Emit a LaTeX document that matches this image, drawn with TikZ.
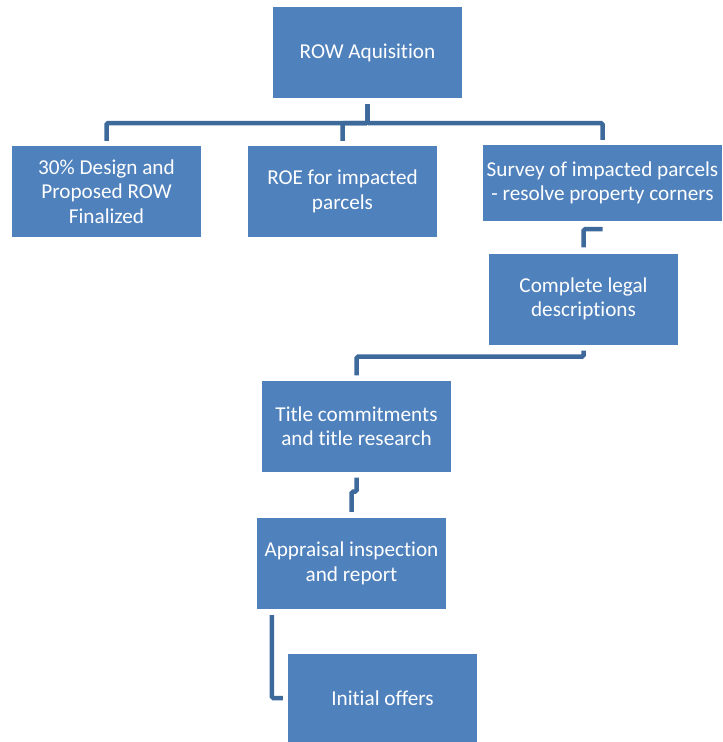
\documentclass[tikz,border=0pt]{standalone}
\usepackage{fontspec}
\setmainfont{Carlito}[Ligatures=NoCommon]
\usepackage{xcolor}
\definecolor{rowblue}{RGB}{79,129,189}
\definecolor{rowline}{RGB}{62,106,155}
\usetikzlibrary{positioning, calc}

\begin{document}
\begin{tikzpicture}[x=1pt, y=-1pt,
  box/.style={fill=rowblue, text=white, align=center, inner sep=0pt,
    minimum width=189pt, minimum height=91pt, font=\fontsize{21.2}{24.5}\selectfont},
  conn/.style={draw=rowline, line width=4.5pt, rounded corners=1.5pt}]
\useasboundingbox (0,0) rectangle (723,742);
\node[box] (row) at (367.5,52.5) {ROW Aquisition};
\node[box] (design) at (106.5,191.5) {30\% Design and\\Proposed ROW\\Finalized};
\node[box] (roe) at (342.5,191.5) {ROE for impacted\\parcels};
\node[box, minimum width=239pt, minimum height=76pt] (survey) at (602.5,183) {Survey of impacted parcels\\- resolve property corners};
\node[box] (legal) at (583.5,299) {Complete legal\\descriptions};
\node[box] (title) at (356.5,426) {Title commitments\\and title research};
\node[box] (appraisal) at (351.5,563.5) {Appraisal inspection\\and report};
\node[box, minimum height=88pt] (offers) at (382.5,698) {Initial offers};

\coordinate (bus) at (367.5,123);
\foreach \c in {design,roe,survey}
  \draw[conn] ([yshift=-6pt]row.south) -- (row.south |- bus) -| ([yshift=5pt]\c.north);
\draw[conn] ([yshift=-8pt]survey.south) -| ([yshift=6pt]legal.north);
\draw[conn] ([yshift=-6pt]legal.south) -- ++(0,6) -| ([yshift=5pt]title.north);
\draw[conn] ([yshift=-6pt]title.south) -- ++(0,14) -| ([yshift=6pt]appraisal.north);
\draw[conn] ([xshift=15pt,yshift=-6pt]appraisal.south west) |- ([xshift=-5pt]offers.west);
\end{tikzpicture}
\end{document}
